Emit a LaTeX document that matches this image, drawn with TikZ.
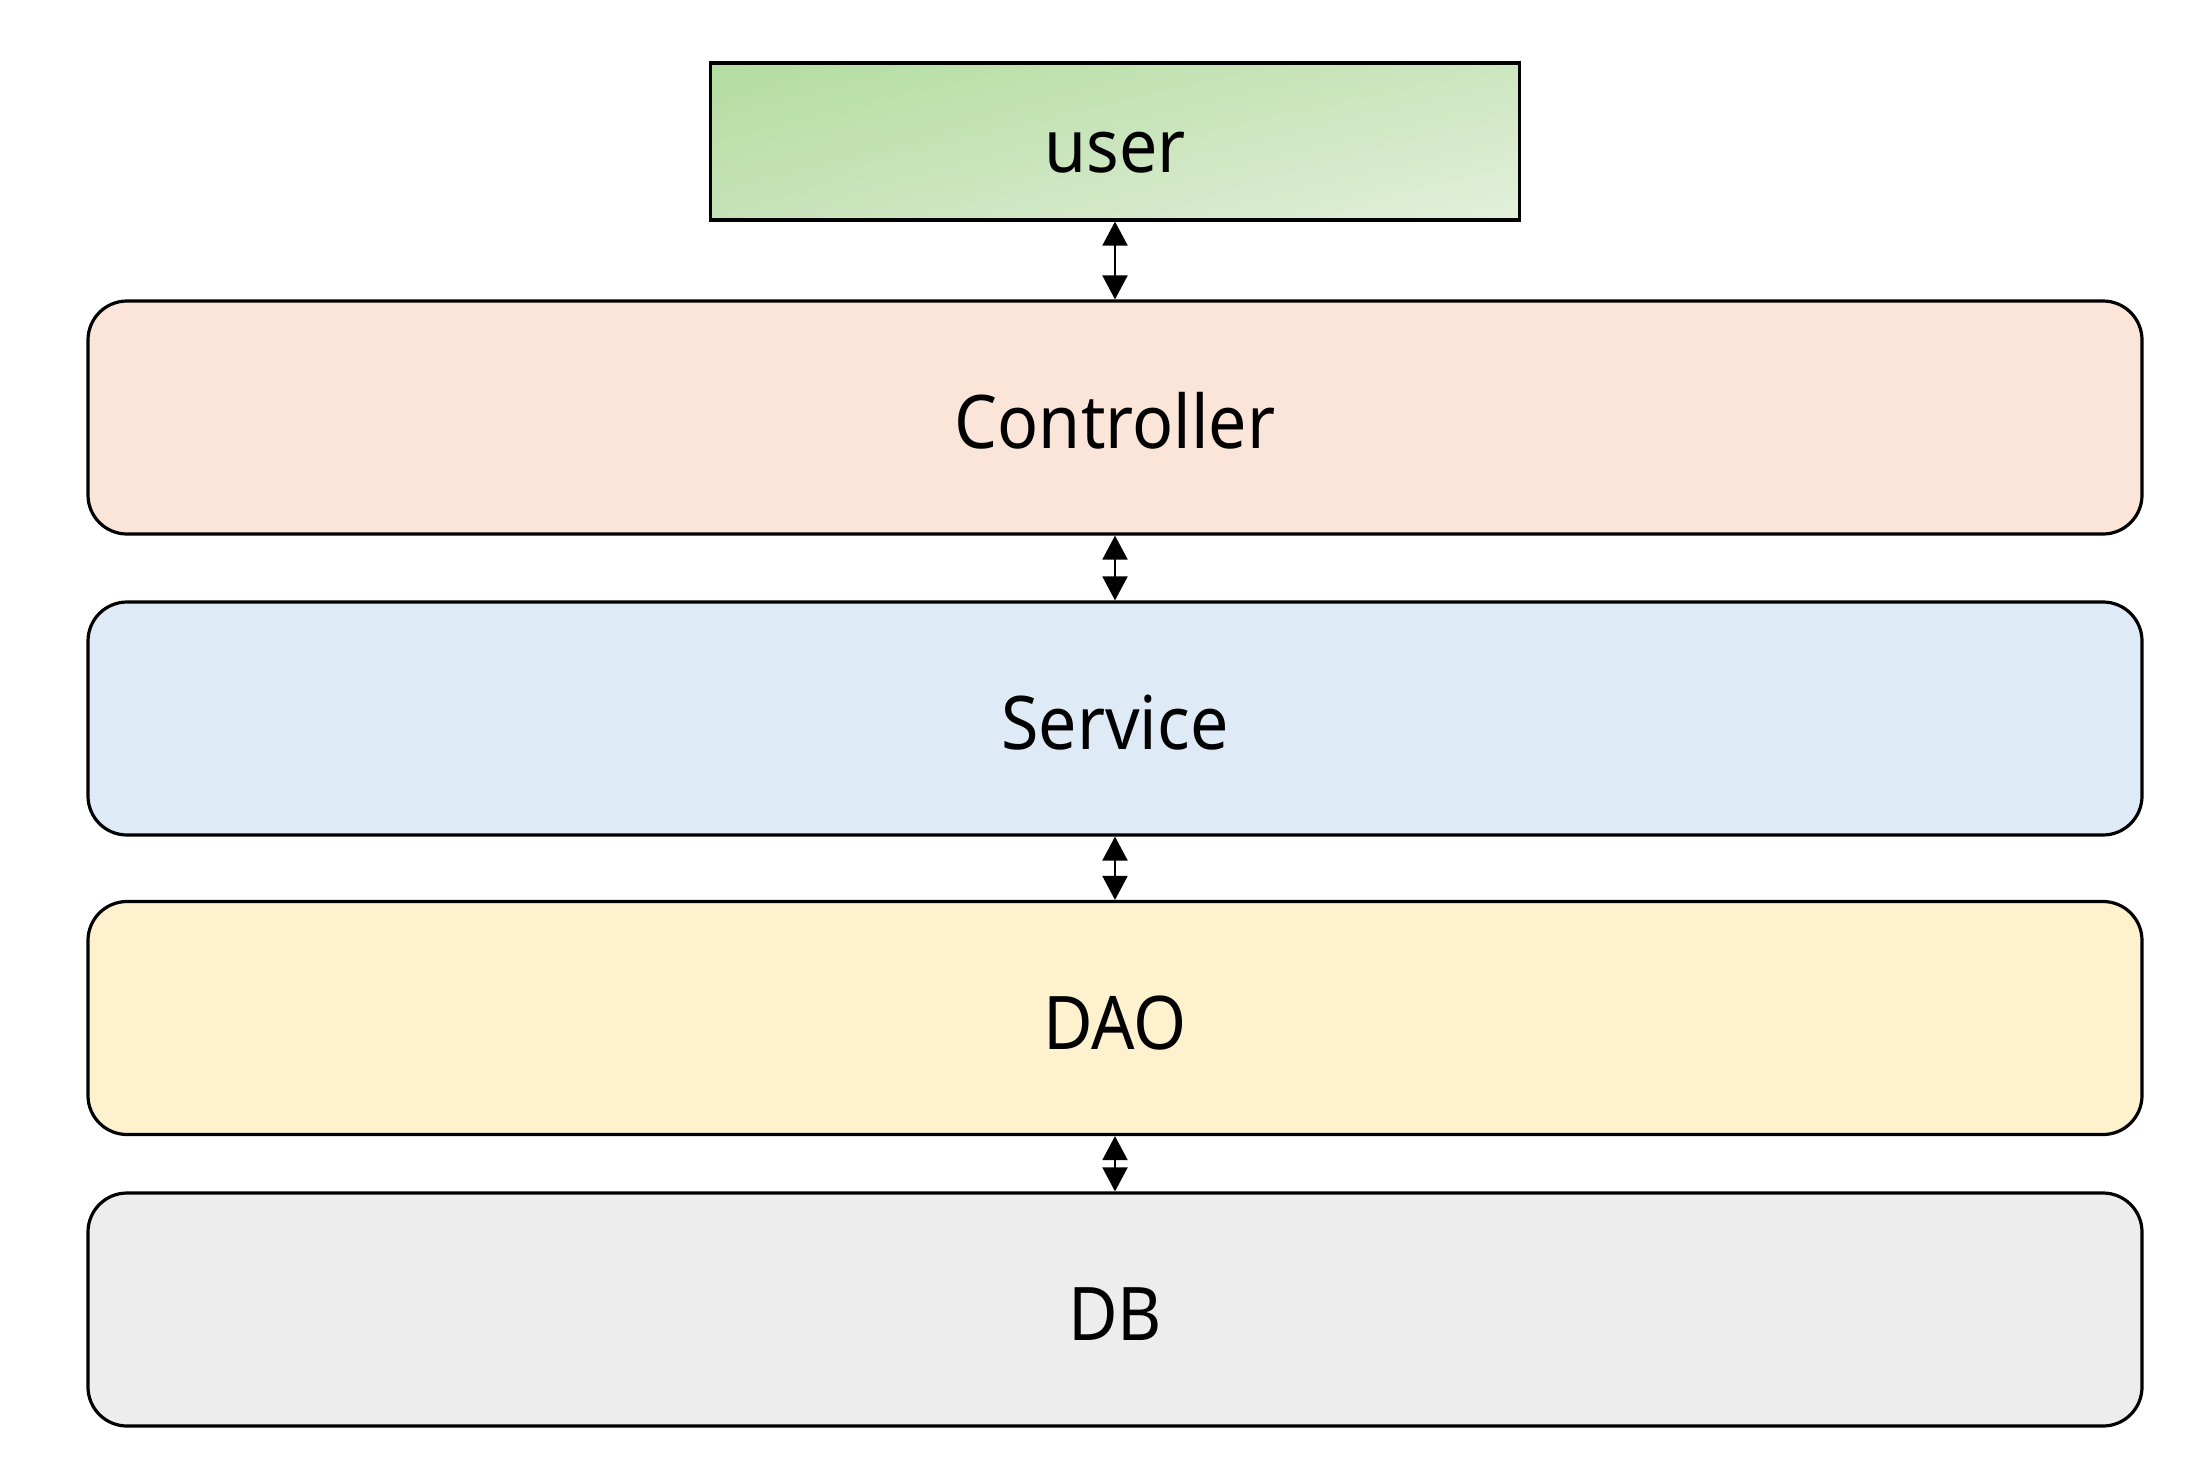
\documentclass[tikz,border=0pt]{standalone}
\usepackage{fontspec}
\setmainfont{Noto Sans}[FakeStretch=0.92]
\usetikzlibrary{arrows.meta,shadings}
\definecolor{ctrlfill}{HTML}{FAE5D8}
\definecolor{servfill}{HTML}{DEEAF6}
\definecolor{daofill}{HTML}{FEF1CD}
\definecolor{dbfill}{HTML}{EDEDED}
\definecolor{ugA}{HTML}{B3DDA0}
\definecolor{ugB}{HTML}{E3F0DB}
\definecolor{ugC}{HTML}{CCE6BF}
\definecolor{ugD}{HTML}{C6E2B8}
\tikzset{
  label text/.style={font=\fontsize{37}{44}\selectfont, text height=35pt, text depth=3.6pt},
  layer/.style={draw=black, line width=1.6pt, rounded corners=19.5pt,
    minimum width=1027pt, minimum height=116.5pt, inner sep=0pt, label text},
  userbox/.style={draw=black, line width=1.6pt, minimum width=404.5pt,
    minimum height=78.5pt, inner sep=0pt, label text,
    upper left=ugA, lower right=ugB, upper right=ugC, lower left=ugD},
  link/.style={line width=1pt, {Triangle[length=12pt,width=12.5pt]}-{Triangle[length=12pt,width=12.5pt]}}
}
\begin{document}
\begin{tikzpicture}[x=0.5pt,y=-0.5pt]
\useasboundingbox (0,0) rectangle (2185,1472);
\node[userbox] (user) at (1115,141.5) {user};
\node[layer, fill=ctrlfill] (ctrl) at (1115,417.5) {Controller};
\node[layer, fill=servfill] (serv) at (1115,718.5) {Service};
\node[layer, fill=daofill] (dao) at (1115,1018) {DAO};
\node[layer, fill=dbfill] (db) at (1115,1309.5) {DB};
\draw[link] (user.south) -- (ctrl.north);
\draw[link] (ctrl.south) -- (serv.north);
\draw[link] (serv.south) -- (dao.north);
\draw[link] (dao.south) -- (db.north);
\end{tikzpicture}
\end{document}
